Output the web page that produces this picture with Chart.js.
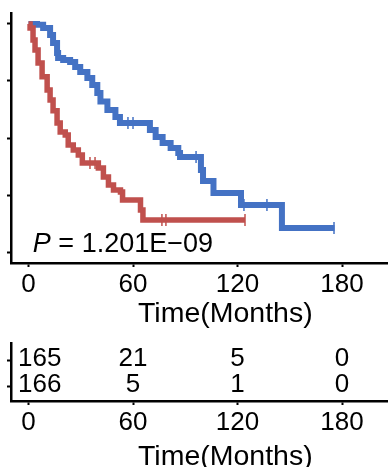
<!DOCTYPE html>
<html>
<head>
<meta charset="utf-8">
<script src="https://cdn.jsdelivr.net/npm/chart.js@4.4.1/dist/chart.umd.min.js"></script>
<style>
  html, body { margin: 0; padding: 0; background: #fff; }
  #wrap { position: relative; width: 388px; height: 467px; overflow: hidden; }
  #km { position: absolute; left: 0; top: 0; }
  #risk { position: absolute; left: 0; top: 335px; }
</style>
</head>
<body>
<div id="wrap">
  <canvas id="km" width="388" height="335"></canvas>
  <canvas id="risk" width="388" height="132"></canvas>
</div>
<script>
// --- Data ---
const blueTimes = [0, 4.9, 8.4, 12.4, 14.1, 16.4, 17.0, 19.9, 23.9, 26.8, 29.7, 33.8, 36.6, 39.5, 41.3, 45.3, 49.9, 52.5,
                   69.7, 73.0, 77.0, 81.6, 86.0, 87.0, 99.0, 100.2, 106.2, 122.0, 145.5, 175.7];
const blueSurv  = [1.0, 0.996, 0.982, 0.952, 0.917, 0.873, 0.851, 0.842, 0.833, 0.811, 0.789, 0.763, 0.732, 0.697, 0.66, 0.623, 0.592, 0.566,
                   0.535, 0.504, 0.478, 0.456, 0.434, 0.417, 0.36, 0.311, 0.259, 0.206, 0.105, 0.105];
const blueCensorTimes = [57.1, 60.0, 96.2, 123.7, 136.9, 175.4];

const redTimes = [0, 0.9, 2.6, 3.75, 5.5, 7.8, 10.7, 12.4, 14.1, 16.4, 18.2, 21.1, 22.8, 25.7, 28.6, 30.9,
                  40.1, 43.0, 45.9, 48.8, 52.8, 54.0, 64.3, 65.7, 124.3];
const redSurv  = [1.0, 0.982, 0.93, 0.886, 0.829, 0.768, 0.71, 0.667, 0.62, 0.566, 0.526, 0.513, 0.469, 0.447, 0.425, 0.39,
                  0.368, 0.329, 0.294, 0.272, 0.263, 0.228, 0.184, 0.14, 0.14];
const redCensorTimes = [35.3, 38.2, 76.6, 78.9, 124.3];

const xTicks = [0, 60, 120, 180];
const yTicks = [0, 0.25, 0.5, 0.75, 1];
const xTitle = 'Time(Months)';
const pPrefix = 'P';
const pRest = ' = 1.201E\u221209';

const riskTimes = [0, 60, 120, 180];
const riskRow1 = [165, 21, 5, 0];
const riskRow2 = [166, 5, 1, 0];

// --- Konfigurasi ---
const FONT = "'Liberation Sans', Arial, sans-serif";
const BLUE = '#4472C4';
const RED = '#C0504D';
const X_MIN = -10.05, X_MAX = 206.4;
const TITLE_CENTER = 113; // judul sumbu x tidak tepat di tengah (gambar asli terpotong)

function survAt(times, surv, t) {
    let s = surv[0];
    for (let i = 0; i < times.length; i++) {
        if (times[i] <= t) s = surv[i];
    }
    return s;
}

function toPoints(times, surv) {
    return times.map((t, i) => ({ x: t, y: surv[i] }));
}

function censorPoints(censor, times, surv) {
    return censor.map(t => ({ x: t, y: survAt(times, surv, t) }));
}

function xScale(height, tickPad) {
    return {
        type: 'linear', min: X_MIN, max: X_MAX,
        afterBuildTicks: s => { s.ticks = xTicks.map(v => ({ value: v })); },
        afterFit: s => { s.height = height; },
        grid: { drawOnChartArea: false, drawTicks: true, tickLength: 4, tickWidth: 2, color: '#000' },
        border: { display: true, width: 2.5, color: '#000' },
        ticks: { color: '#000', font: { family: FONT, size: 26, lineHeight: 1 }, padding: tickPad, maxRotation: 0, autoSkip: false },
        title: { display: false }
    };
}

function yScale(min, max, ticks) {
    return {
        type: 'linear', min: min, max: max,
        afterBuildTicks: s => { s.ticks = ticks.map(v => ({ value: v })); },
        afterFit: s => { s.width = 11; },
        grid: { drawOnChartArea: false, drawTicks: true, tickLength: 4, tickWidth: 2, color: '#000' },
        border: { display: true, width: 2.5, color: '#000' },
        ticks: { display: false }
    };
}

// judul sumbu x, baseline diukur dari garis sumbu
function titlePlugin(baselineOffset) {
    return {
        id: 'xTitle',
        afterDraw(chart) {
            const ctx = chart.ctx;
            ctx.save();
            ctx.fillStyle = '#000';
            ctx.font = `28.5px ${FONT}`;
            ctx.textAlign = 'center';
            ctx.textBaseline = 'alphabetic';
            ctx.fillText(xTitle, chart.scales.x.getPixelForValue(TITLE_CENTER), chart.chartArea.bottom + baselineOffset);
            ctx.restore();
        }
    };
}

// teks P-value
const pValuePlugin = {
    id: 'pValue',
    afterDatasetsDraw(chart) {
        const ctx = chart.ctx;
        const x = chart.scales.x.getPixelForValue(2.5);
        const y = chart.scales.y.getPixelForValue(0);
        ctx.save();
        ctx.fillStyle = '#000';
        ctx.textBaseline = 'alphabetic';
        ctx.textAlign = 'left';
        ctx.font = `italic 27px ${FONT}`;
        ctx.fillText(pPrefix, x, y);
        const w = ctx.measureText(pPrefix).width;
        ctx.font = `27px ${FONT}`;
        ctx.fillText(pRest, x + w, y);
        ctx.restore();
    }
};

// angka tabel risiko
const riskPlugin = {
    id: 'riskNumbers',
    afterDatasetsDraw(chart) {
        const ctx = chart.ctx;
        const left = chart.chartArea.left;
        ctx.save();
        ctx.fillStyle = '#000';
        ctx.font = `26px ${FONT}`;
        ctx.textBaseline = 'middle';
        ctx.textAlign = 'center';
        [[riskRow1, 2], [riskRow2, 1]].forEach(([row, level]) => {
            const y = chart.scales.y.getPixelForValue(level) - 2;
            row.forEach((n, i) => {
                const label = String(n);
                const w = ctx.measureText(label).width;
                const x = Math.max(chart.scales.x.getPixelForValue(riskTimes[i]), left + 7 + w / 2);
                ctx.fillText(label, x, y);
            });
        });
        ctx.restore();
    }
};

const common = {
    responsive: false,
    animation: false,
    events: [],
    plugins: { legend: { display: false }, tooltip: { enabled: false } }
};

new Chart(document.getElementById('km').getContext('2d'), {
    type: 'line',
    data: {
        datasets: [
            { data: toPoints(redTimes, redSurv), borderColor: RED, borderWidth: 5.5, stepped: 'before', pointRadius: 0, fill: false },
            { data: toPoints(blueTimes, blueSurv), borderColor: BLUE, borderWidth: 6, stepped: 'before', pointRadius: 0, fill: false },
            { type: 'scatter', data: censorPoints(redCensorTimes, redTimes, redSurv), pointStyle: 'line', rotation: 90,
              radius: 6, borderWidth: 1.5, borderColor: RED, showLine: false },
            { type: 'scatter', data: censorPoints(blueCensorTimes, blueTimes, blueSurv), pointStyle: 'line', rotation: 90,
              radius: 6, borderWidth: 1.5, borderColor: BLUE, showLine: false }
        ]
    },
    options: Object.assign({}, common, {
        layout: { autoPadding: false, padding: { top: 13, left: 0, right: 0, bottom: 0 } },
        scales: { x: xScale(72, 5), y: yScale(-0.048, 1.048, yTicks) }
    }),
    plugins: [pValuePlugin, titlePlugin(59)]
});

new Chart(document.getElementById('risk').getContext('2d'), {
    type: 'scatter',
    data: { datasets: [{ data: [] }] },
    options: Object.assign({}, common, {
        layout: { autoPadding: false, padding: { top: 8, left: 0, right: 0, bottom: 0 } },
        scales: { x: xScale(66, 5), y: yScale(0.4615, 2.692, [1, 2]) }
    }),
    plugins: [riskPlugin, titlePlugin(63.5)]
});
</script>
</body>
</html>
